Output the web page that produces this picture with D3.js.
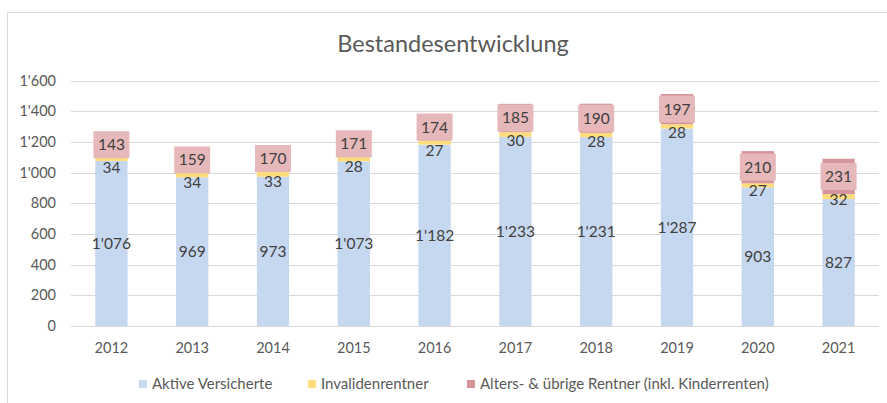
<!DOCTYPE html>
<html>
<head>
<meta charset="utf-8">
<script src="https://cdn.jsdelivr.net/npm/d3@7"></script>
<style>
  body { margin: 0; background: #fff; }
  svg { font-family: Lato, "Open Sans", sans-serif; }
</style>
</head>
<body>
<div id="chart"></div>
<script>
// Daten
let years = ['2012', '2013', '2014', '2015', '2016', '2017', '2018', '2019', '2020', '2021'];
let aktive = [1076, 969, 973, 1073, 1182, 1233, 1231, 1287, 903, 827];
let invalide = [34, 34, 33, 28, 27, 30, 28, 28, 27, 32];
let alters = [143, 159, 170, 171, 174, 185, 190, 197, 210, 231];
let seriesNames = ['Aktive Versicherte', 'Invalidenrentner', 'Alters- & übrige Rentner (inkl. Kinderrenten)'];
let yTicks = [0, 200, 400, 600, 800, 1000, 1200, 1400, 1600];

let width = 887, height = 403;
let colors = ['#c6d8f0', '#ffdc7a', '#d5959c'];
let boxColor = '#e7b8b9';
let textColor = '#404040';
let axisColor = '#595959';

let svg = d3.select('#chart').append('svg')
    .attr('width', width)
    .attr('height', height);

//Rahmen
svg.append('rect')
    .attr('x', 7.5).attr('y', 12.5)
    .attr('width', width + 10).attr('height', height + 10)
    .attr('fill', 'none')
    .attr('stroke', '#d9d9d9');

//Titel
svg.append('text')
    .attr('x', 453).attr('y', 52)
    .attr('text-anchor', 'middle')
    .attr('font-size', 23.5)
    .attr('fill', axisColor)
    .text('Bestandesentwicklung');

let data = years.map((y, i) => ({year: y, a: aktive[i], b: invalide[i], c: alters[i]}));
let stack = d3.stack().keys(['a', 'b', 'c']);
let stacked = stack(data);

let x = d3.scaleBand().domain(years).range([71, 879]).paddingInner(0.6).paddingOuter(0.3);
let y = d3.scaleLinear().domain([0, 1600]).range([326, 80.5]);

//Gitterlinien
svg.append('g').selectAll('line')
    .data(yTicks)
    .enter().append('line')
    .attr('x1', 71).attr('x2', 879)
    .attr('y1', d => Math.round(y(d)) + 0.5)
    .attr('y2', d => Math.round(y(d)) + 0.5)
    .attr('stroke', '#d9d9d9')
    .attr('stroke-width', 1);

//Y-Achse
svg.append('g').selectAll('text')
    .data(yTicks)
    .enter().append('text')
    .attr('x', 56)
    .attr('y', d => y(d))
    .attr('dy', '0.35em')
    .attr('text-anchor', 'end')
    .attr('font-size', 14.5)
    .attr('fill', axisColor)
    .text(d => d3.format(',')(d).replace(/,/g, "'"));

//X-Achse
svg.append('g').selectAll('text')
    .data(years)
    .enter().append('text')
    .attr('x', d => x(d) + x.bandwidth() / 2)
    .attr('y', 348)
    .attr('dy', '0.35em')
    .attr('text-anchor', 'middle')
    .attr('font-size', 14.5)
    .attr('fill', axisColor)
    .text(d => d);

//Balken
let layers = svg.append('g').selectAll('g')
    .data(stacked)
    .enter().append('g')
    .attr('fill', (d, i) => colors[i]);
layers.selectAll('rect')
    .data(d => d)
    .enter().append('rect')
    .attr('x', d => x(d.data.year))
    .attr('width', x.bandwidth())
    .attr('y', d => y(d[1]))
    .attr('height', d => y(d[0]) - y(d[1]));

let fmt = v => d3.format(',')(v).replace(/,/g, "'");
let labels = svg.append('g').attr('font-size', 15.5).attr('fill', textColor).attr('text-anchor', 'middle');

let boxW = 36, boxH = 27;
data.forEach((d, i) => {
    let cx = x(d.year) + x.bandwidth() / 2;
    //Aktive
    let sa = stacked[0][i];
    labels.append('text')
        .attr('x', cx).attr('y', (y(sa[0]) + y(sa[1])) / 2)
        .attr('dy', '0.35em')
        .text(fmt(d.a));
    //Alters-Box
    let sc = stacked[2][i];
    let cyC = (y(sc[0]) + y(sc[1])) / 2;
    labels.append('rect')
        .attr('x', cx - boxW / 2).attr('y', cyC - boxH / 2)
        .attr('width', boxW).attr('height', boxH)
        .attr('fill', boxColor);
    labels.append('text')
        .attr('x', cx).attr('y', cyC)
        .attr('dy', '0.35em')
        .text(fmt(d.c));
    //Invalide - unter die Box geschoben
    let sb = stacked[1][i];
    let cyB = Math.max((y(sb[0]) + y(sb[1])) / 2, cyC + boxH / 2 + 9.5);
    labels.append('text')
        .attr('x', cx).attr('y', cyB)
        .attr('dy', '0.35em')
        .text(fmt(d.b));
});

//Legende
let legendX = [139, 308, 467];
let legend = svg.append('g').selectAll('g')
    .data(seriesNames)
    .enter().append('g')
    .attr('transform', (d, i) => 'translate(' + legendX[i] + ',384)');
legend.append('rect')
    .attr('x', 0).attr('y', -4)
    .attr('width', 8).attr('height', 8)
    .attr('fill', (d, i) => colors[i]);
legend.append('text')
    .attr('x', 13).attr('y', 0)
    .attr('dy', '0.35em')
    .attr('font-size', 15)
    .attr('fill', axisColor)
    .text(d => d);
</script>
</body>
</html>
